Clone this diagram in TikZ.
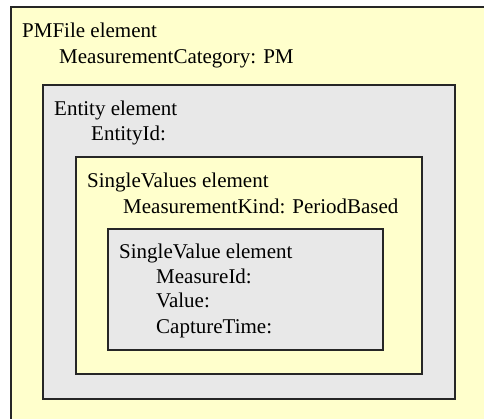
\documentclass[tikz,border=0pt]{standalone}
\usepackage{fontspec}
\setmainfont{Liberation Serif}
\definecolor{yellowbg}{RGB}{255,255,204}
\definecolor{graybg}{RGB}{232,232,232}
\begin{document}
\begin{tikzpicture}[x=1pt,y=-1pt,
  box/.style={draw=black!85, line width=1.6pt, anchor=north west,
    inner sep=0pt, outer sep=0pt},
  ybox/.style={box, fill=yellowbg},
  gbox/.style={box, fill=graybg},
  lbl/.style={anchor=base west, inner sep=0pt,
    font=\fontsize{21}{25}\selectfont}]
\useasboundingbox (0,0) rectangle (484,418);
\clip (0,0) rectangle (484,418);

% nested element boxes
\node[ybox, minimum width=500pt, minimum height=430pt] (pmfile) at (11,7) {};
\node[gbox, minimum width=412pt, minimum height=314pt] (entity) at (43,85) {};
\node[ybox, minimum width=346pt, minimum height=217pt] (singlevalues) at (76,157) {};
\node[gbox, minimum width=275pt, minimum height=121pt] (singlevalue) at (108,229) {};

% PMFile element
\node[lbl] (pmtitle) at (22,37) {PMFile element};
\node[lbl] (pmcat) at (59,63) {MeasurementCategory: PM};

% Entity element
\node[lbl] (enttitle) at (54,115) {Entity element};
\node[lbl] (entid) at (91,140) {EntityId:};

% SingleValues element
\node[lbl] (svstitle) at (87,187) {SingleValues element};
\node[lbl] (svskind) at (123,213) {MeasurementKind: PeriodBased};

% SingleValue element
\node[lbl] (svtitle) at (119,258) {SingleValue element};
\node[lbl] (svmid) at (156,283) {MeasureId:};
\node[lbl] (svval) at (156,307) {Value:};
\node[lbl] (svtime) at (156,333) {CaptureTime:};
\end{tikzpicture}
\end{document}
